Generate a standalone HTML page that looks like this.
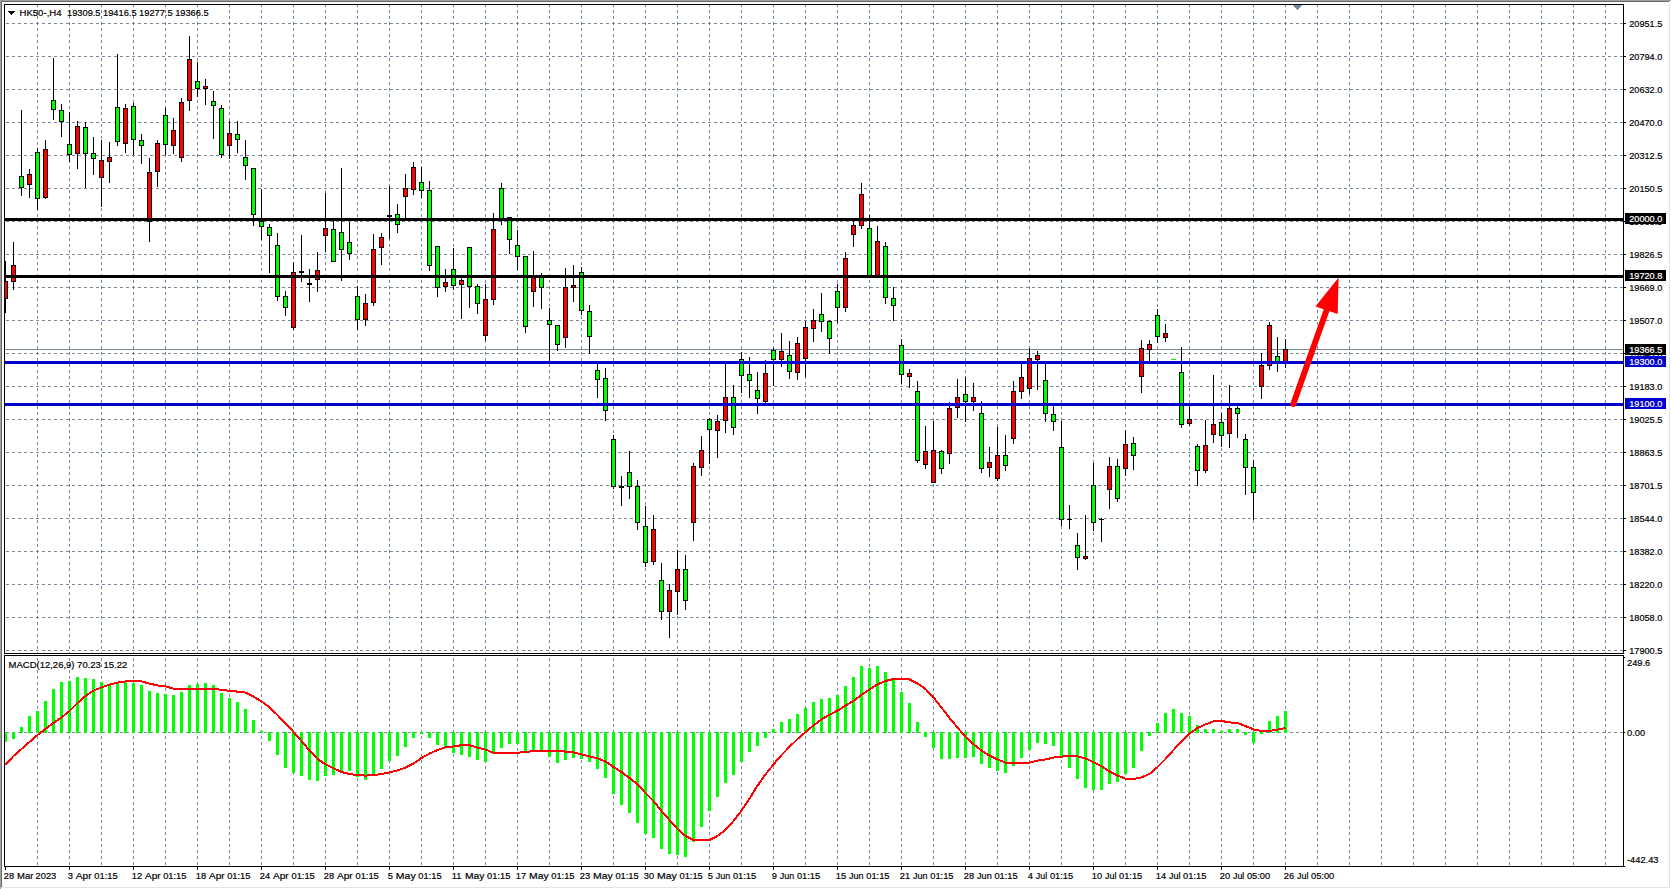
<!DOCTYPE html>
<html lang="en"><head><meta charset="utf-8"><title>HK50-,H4</title>
<style>
html,body{margin:0;padding:0;background:#fff;overflow:hidden}
body{width:1671px;height:889px}
svg{display:block;position:absolute;left:0;top:0}
text{font-family:"Liberation Sans",Arial,sans-serif;font-size:9.8px;fill:#000;stroke:#000;stroke-width:.2px}
.w{fill:#fff;stroke:#fff}
</style></head><body>
<svg width="1671" height="889" viewBox="0 0 1671 889">
<rect width="1671" height="889" fill="#fff"/>
<g shape-rendering="crispEdges">
<rect x="0" y="0" width="1671" height="1" fill="#a0a0a0"/><rect x="0" y="0" width="1" height="889" fill="#a0a0a0"/>
<rect x="1" y="1" width="1669" height="1" fill="#696969"/><rect x="1" y="1" width="1" height="887" fill="#696969"/>
<rect x="1" y="887" width="1669" height="1" fill="#e3e3e3"/><rect x="1669" y="1" width="1" height="887" fill="#e3e3e3"/>
<defs><clipPath id="c1"><rect x="5" y="5" width="1618" height="648"/></clipPath><clipPath id="c2"><rect x="5" y="656" width="1618" height="210"/></clipPath></defs>
<g clip-path="url(#c1)"><path d="M37.5 4V653M69.5 4V653M101.5 4V653M133.5 4V653M165.5 4V653M197.5 4V653M229.5 4V653M261.5 4V653M293.5 4V653M325.5 4V653M357.5 4V653M389.5 4V653M421.5 4V653M453.5 4V653M485.5 4V653M517.5 4V653M549.5 4V653M581.5 4V653M613.5 4V653M645.5 4V653M677.5 4V653M709.5 4V653M741.5 4V653M773.5 4V653M805.5 4V653M837.5 4V653M869.5 4V653M901.5 4V653M933.5 4V653M965.5 4V653M997.5 4V653M1029.5 4V653M1061.5 4V653M1093.5 4V653M1125.5 4V653M1157.5 4V653M1189.5 4V653M1221.5 4V653M1253.5 4V653M1285.5 4V653M1317.5 4V653M1349.5 4V653M1381.5 4V653M1413.5 4V653M1445.5 4V653M1477.5 4V653M1509.5 4V653M1541.5 4V653M1573.5 4V653M1605.5 4V653" stroke="#778899" stroke-width="1" stroke-dasharray="3 3" fill="none"/>
<path d="M0 23.5H1623M0 56.5H1623M0 89.5H1623M0 122.5H1623M0 155.5H1623M0 188.5H1623M0 221.5H1623M0 254.5H1623M0 287.5H1623M0 320.5H1623M0 353.5H1623M0 386.5H1623M0 419.5H1623M0 452.5H1623M0 485.5H1623M0 518.5H1623M0 551.5H1623M0 584.5H1623M0 617.5H1623M0 650.5H1623" stroke="#778899" stroke-width="1" stroke-dasharray="3 3" fill="none"/>
<rect x="5" y="349" width="1618" height="1" fill="#778899"/>
<path d="M5 261h1V313h-1zM3 281h5V299h-5zM13 242h1V290h-1zM11 265h5V282h-5zM21 110h1V196h-1zM19 176h5V188h-5zM29 169h1V198h-1zM27 174h5V185h-5zM37 148h1V210h-1zM35 152h5V199h-5zM45 140h1V199h-1zM43 149h5V198h-5zM53 58h1V120h-1zM51 100h5V110h-5zM61 104h1V137h-1zM59 110h5V122h-5zM69 112h1V162h-1zM67 144h5V155h-5zM77 121h1V169h-1zM75 126h5V154h-5zM85 122h1V188h-1zM83 127h5V154h-5zM93 137h1V175h-1zM91 153h5V159h-5zM101 140h1V207h-1zM99 160h5V178h-5zM109 142h1V183h-1zM107 157h5V162h-5zM117 54h1V146h-1zM115 107h5V142h-5zM125 104h1V153h-1zM123 108h5V144h-5zM133 103h1V155h-1zM131 106h5V140h-5zM141 134h1V164h-1zM139 140h5V146h-5zM149 158h1V242h-1zM147 172h5V222h-5zM157 140h1V187h-1zM155 143h5V172h-5zM165 108h1V155h-1zM163 115h5V145h-5zM173 118h1V154h-1zM171 130h5V146h-5zM181 98h1V162h-1zM179 102h5V158h-5zM189 36h1V111h-1zM187 59h5V101h-5zM197 62h1V97h-1zM195 81h5V89h-5zM205 79h1V105h-1zM203 86h5V89h-5zM213 91h1V139h-1zM211 101h5V106h-5zM221 105h1V158h-1zM219 108h5V155h-5zM229 121h1V159h-1zM227 133h5V146h-5zM237 121h1V153h-1zM235 134h5V140h-5zM245 140h1V180h-1zM243 157h5V166h-5zM253 168h1V226h-1zM251 168h5V215h-5zM261 189h1V240h-1zM259 221h5V227h-5zM269 224h1V273h-1zM267 227h5V236h-5zM277 233h1V301h-1zM275 245h5V297h-5zM285 291h1V316h-1zM283 296h5V308h-5zM293 262h1V330h-1zM291 272h5V328h-5zM301 235h1V282h-1zM299 271h5V273h-5zM309 269h1V302h-1zM307 283h5V285h-5zM317 252h1V292h-1zM315 270h5V280h-5zM325 193h1V252h-1zM323 228h5V236h-5zM333 219h1V262h-1zM331 229h5V262h-5zM341 168h1V281h-1zM339 232h5V250h-5zM349 222h1V260h-1zM347 242h5V254h-5zM357 286h1V330h-1zM355 296h5V320h-5zM365 294h1V326h-1zM363 303h5V320h-5zM373 234h1V306h-1zM371 249h5V303h-5zM381 233h1V265h-1zM379 237h5V248h-5zM389 186h1V239h-1zM387 215h5V217h-5zM397 204h1V233h-1zM395 214h5V225h-5zM405 174h1V219h-1zM403 188h5V197h-5zM413 162h1V195h-1zM411 167h5V190h-5zM421 167h1V198h-1zM419 182h5V191h-5zM429 181h1V271h-1zM427 190h5V266h-5zM437 246h1V297h-1zM435 246h5V288h-5zM445 269h1V292h-1zM443 282h5V287h-5zM453 248h1V290h-1zM451 269h5V286h-5zM461 278h1V319h-1zM459 280h5V285h-5zM469 247h1V308h-1zM467 247h5V287h-5zM477 284h1V314h-1zM475 286h5V304h-5zM485 284h1V341h-1zM483 299h5V336h-5zM493 213h1V305h-1zM491 229h5V300h-5zM501 183h1V225h-1zM499 188h5V220h-5zM509 217h1V254h-1zM507 217h5V240h-5zM517 230h1V270h-1zM515 245h5V257h-5zM525 256h1V333h-1zM523 256h5V327h-5zM533 251h1V307h-1zM531 277h5V292h-5zM541 273h1V309h-1zM539 277h5V288h-5zM549 308h1V361h-1zM547 320h5V325h-5zM557 325h1V351h-1zM555 325h5V345h-5zM565 268h1V348h-1zM563 287h5V338h-5zM573 265h1V302h-1zM571 285h5V288h-5zM581 267h1V315h-1zM579 272h5V311h-5zM589 305h1V354h-1zM587 311h5V337h-5zM597 364h1V398h-1zM595 370h5V380h-5zM605 368h1V421h-1zM603 378h5V411h-5zM613 435h1V489h-1zM611 439h5V487h-5zM621 476h1V506h-1zM619 486h5V488h-5zM629 451h1V499h-1zM627 472h5V487h-5zM637 480h1V530h-1zM635 486h5V523h-5zM645 506h1V567h-1zM643 526h5V563h-5zM653 515h1V565h-1zM651 529h5V562h-5zM661 563h1V620h-1zM659 580h5V612h-5zM669 584h1V638h-1zM667 590h5V612h-5zM677 550h1V615h-1zM675 569h5V592h-5zM685 555h1V610h-1zM683 569h5V601h-5zM693 463h1V541h-1zM691 466h5V523h-5zM701 436h1V476h-1zM699 450h5V468h-5zM709 418h1V464h-1zM707 419h5V430h-5zM717 415h1V458h-1zM715 421h5V431h-5zM725 362h1V433h-1zM723 397h5V421h-5zM733 385h1V435h-1zM731 397h5V428h-5zM741 352h1V393h-1zM739 359h5V376h-5zM749 357h1V398h-1zM747 374h5V381h-5zM757 372h1V414h-1zM755 390h5V399h-5zM765 360h1V403h-1zM763 373h5V402h-5zM773 348h1V386h-1zM771 350h5V360h-5zM781 333h1V367h-1zM779 351h5V360h-5zM789 341h1V379h-1zM787 355h5V372h-5zM797 337h1V380h-1zM795 343h5V373h-5zM805 321h1V377h-1zM803 327h5V359h-5zM813 309h1V342h-1zM811 320h5V329h-5zM821 293h1V332h-1zM819 314h5V322h-5zM829 320h1V354h-1zM827 321h5V339h-5zM837 284h1V323h-1zM835 291h5V308h-5zM845 252h1V312h-1zM843 258h5V308h-5zM853 221h1V247h-1zM851 225h5V235h-5zM861 183h1V229h-1zM859 194h5V226h-5zM869 215h1V278h-1zM867 228h5V276h-5zM877 226h1V278h-1zM875 241h5V276h-5zM885 242h1V304h-1zM883 246h5V298h-5zM893 287h1V321h-1zM891 298h5V306h-5zM901 339h1V384h-1zM899 345h5V375h-5zM909 369h1V388h-1zM907 373h5V377h-5zM917 381h1V463h-1zM915 391h5V461h-5zM925 426h1V469h-1zM923 451h5V465h-5zM933 421h1V483h-1zM931 450h5V483h-5zM941 450h1V474h-1zM939 451h5V469h-5zM949 402h1V464h-1zM947 408h5V454h-5zM957 379h1V418h-1zM955 397h5V408h-5zM965 377h1V422h-1zM963 394h5V402h-5zM973 383h1V411h-1zM971 397h5V402h-5zM981 401h1V473h-1zM979 413h5V469h-5zM989 447h1V477h-1zM987 462h5V468h-5zM997 427h1V481h-1zM995 455h5V479h-5zM1005 435h1V471h-1zM1003 455h5V466h-5zM1013 381h1V444h-1zM1011 391h5V439h-5zM1021 362h1V399h-1zM1019 377h5V392h-5zM1029 348h1V394h-1zM1027 358h5V389h-5zM1037 351h1V390h-1zM1035 355h5V360h-5zM1045 362h1V422h-1zM1043 380h5V414h-5zM1053 405h1V431h-1zM1051 414h5V422h-5zM1061 421h1V526h-1zM1059 447h5V520h-5zM1069 505h1V529h-1zM1067 519h5V520h-5zM1077 533h1V570h-1zM1075 545h5V558h-5zM1085 515h1V560h-1zM1083 556h5V559h-5zM1093 463h1V531h-1zM1091 485h5V523h-5zM1101 518h1V542h-1zM1099 519h5V520h-5zM1109 457h1V509h-1zM1107 466h5V490h-5zM1117 459h1V502h-1zM1115 466h5V499h-5zM1125 430h1V476h-1zM1123 444h5V469h-5zM1133 437h1V470h-1zM1131 443h5V456h-5zM1141 340h1V393h-1zM1139 348h5V377h-5zM1149 340h1V362h-1zM1147 344h5V350h-5zM1157 309h1V343h-1zM1155 315h5V337h-5zM1165 324h1V342h-1zM1163 333h5V338h-5zM1181 347h1V428h-1zM1179 372h5V425h-5zM1189 405h1V426h-1zM1187 419h5V424h-5zM1197 444h1V486h-1zM1195 446h5V471h-5zM1205 420h1V473h-1zM1203 445h5V471h-5zM1213 375h1V443h-1zM1211 424h5V435h-5zM1221 413h1V447h-1zM1219 422h5V436h-5zM1229 385h1V448h-1zM1227 408h5V434h-5zM1237 406h1V438h-1zM1235 408h5V414h-5zM1245 434h1V495h-1zM1243 439h5V468h-5zM1253 460h1V520h-1zM1251 467h5V493h-5zM1261 353h1V399h-1zM1259 365h5V387h-5zM1269 322h1V370h-1zM1267 325h5V366h-5zM1277 337h1V372h-1zM1275 356h5V362h-5zM1285 339h1V368h-1zM1283 349h5V362h-5z" fill="#000"/>
<path d="M4 282h3V298h-3zM12 266h3V281h-3zM28 175h3V184h-3zM44 150h3V197h-3zM76 127h3V153h-3zM100 161h3V177h-3zM108 158h3V161h-3zM124 109h3V143h-3zM148 173h3V221h-3zM156 144h3V171h-3zM172 131h3V145h-3zM180 103h3V157h-3zM188 60h3V100h-3zM204 87h3V88h-3zM228 134h3V145h-3zM292 273h3V327h-3zM316 271h3V279h-3zM324 229h3V235h-3zM364 304h3V319h-3zM372 250h3V302h-3zM380 238h3V247h-3zM404 189h3V196h-3zM412 168h3V189h-3zM444 283h3V286h-3zM460 281h3V284h-3zM484 300h3V335h-3zM492 230h3V299h-3zM532 278h3V291h-3zM564 288h3V337h-3zM572 286h3V287h-3zM652 530h3V561h-3zM668 591h3V611h-3zM676 570h3V591h-3zM692 467h3V522h-3zM700 451h3V467h-3zM716 422h3V430h-3zM724 398h3V420h-3zM764 374h3V401h-3zM780 352h3V359h-3zM796 344h3V372h-3zM804 328h3V358h-3zM812 321h3V328h-3zM844 259h3V307h-3zM852 226h3V234h-3zM860 195h3V225h-3zM876 242h3V275h-3zM908 374h3V376h-3zM924 452h3V464h-3zM932 451h3V482h-3zM948 409h3V453h-3zM956 398h3V407h-3zM972 398h3V401h-3zM988 463h3V467h-3zM996 456h3V478h-3zM1012 392h3V438h-3zM1020 378h3V391h-3zM1028 359h3V388h-3zM1036 356h3V359h-3zM1084 557h3V558h-3zM1108 467h3V489h-3zM1124 445h3V468h-3zM1140 349h3V376h-3zM1148 345h3V349h-3zM1164 334h3V337h-3zM1188 420h3V423h-3zM1204 446h3V470h-3zM1212 425h3V434h-3zM1228 409h3V433h-3zM1260 366h3V386h-3zM1268 326h3V365h-3zM1284 350h3V361h-3z" fill="#f00"/>
<path d="M20 177h3V187h-3zM36 153h3V198h-3zM52 101h3V109h-3zM60 111h3V121h-3zM68 145h3V154h-3zM84 128h3V153h-3zM92 154h3V158h-3zM116 108h3V141h-3zM132 107h3V139h-3zM140 141h3V145h-3zM164 116h3V144h-3zM196 82h3V88h-3zM212 102h3V105h-3zM220 109h3V154h-3zM236 135h3V139h-3zM244 158h3V165h-3zM252 169h3V214h-3zM260 222h3V226h-3zM268 228h3V235h-3zM276 246h3V296h-3zM284 297h3V307h-3zM332 230h3V261h-3zM340 233h3V249h-3zM348 243h3V253h-3zM356 297h3V319h-3zM396 215h3V224h-3zM420 183h3V190h-3zM428 191h3V265h-3zM436 247h3V287h-3zM452 270h3V285h-3zM468 248h3V286h-3zM476 287h3V303h-3zM500 189h3V219h-3zM508 218h3V239h-3zM516 246h3V256h-3zM524 257h3V326h-3zM540 278h3V287h-3zM548 321h3V324h-3zM556 326h3V344h-3zM580 273h3V310h-3zM588 312h3V336h-3zM596 371h3V379h-3zM604 379h3V410h-3zM612 440h3V486h-3zM628 473h3V486h-3zM636 487h3V522h-3zM644 527h3V562h-3zM660 581h3V611h-3zM684 570h3V600h-3zM708 420h3V429h-3zM732 398h3V427h-3zM740 360h3V375h-3zM748 375h3V380h-3zM756 391h3V398h-3zM772 351h3V359h-3zM788 356h3V371h-3zM820 315h3V321h-3zM828 322h3V338h-3zM836 292h3V307h-3zM868 229h3V275h-3zM884 247h3V297h-3zM892 299h3V305h-3zM900 346h3V374h-3zM916 392h3V460h-3zM940 452h3V468h-3zM964 395h3V401h-3zM980 414h3V468h-3zM1004 456h3V465h-3zM1044 381h3V413h-3zM1052 415h3V421h-3zM1060 448h3V519h-3zM1076 546h3V557h-3zM1092 486h3V522h-3zM1116 467h3V498h-3zM1132 444h3V455h-3zM1156 316h3V336h-3zM1180 373h3V424h-3zM1196 447h3V470h-3zM1220 423h3V435h-3zM1236 409h3V413h-3zM1244 440h3V467h-3zM1252 468h3V492h-3zM1276 357h3V361h-3z" fill="#0f0"/>
<rect x="1171" y="359" width="5" height="1" fill="#0f0"/>
<rect x="5" y="218" width="1618" height="3" fill="#000"/><rect x="5" y="275" width="1618" height="3" fill="#000"/>
<rect x="5" y="361" width="1618" height="3" fill="#0000cd"/><rect x="5" y="403" width="1618" height="3" fill="#0000cd"/>
</g>
<g clip-path="url(#c2)"><path d="M37.5 4V867M69.5 4V867M101.5 4V867M133.5 4V867M165.5 4V867M197.5 4V867M229.5 4V867M261.5 4V867M293.5 4V867M325.5 4V867M357.5 4V867M389.5 4V867M421.5 4V867M453.5 4V867M485.5 4V867M517.5 4V867M549.5 4V867M581.5 4V867M613.5 4V867M645.5 4V867M677.5 4V867M709.5 4V867M741.5 4V867M773.5 4V867M805.5 4V867M837.5 4V867M869.5 4V867M901.5 4V867M933.5 4V867M965.5 4V867M997.5 4V867M1029.5 4V867M1061.5 4V867M1093.5 4V867M1125.5 4V867M1157.5 4V867M1189.5 4V867M1221.5 4V867M1253.5 4V867M1285.5 4V867M1317.5 4V867M1349.5 4V867M1381.5 4V867M1413.5 4V867M1445.5 4V867M1477.5 4V867M1509.5 4V867M1541.5 4V867M1573.5 4V867M1605.5 4V867" stroke="#778899" stroke-width="1" stroke-dasharray="3 3" fill="none"/>
<path d="M0 732.5H1623" stroke="#778899" stroke-width="1" stroke-dasharray="3 3" fill="none"/>
<path d="M4 732h3V742h-3zM12 732h3V739h-3zM20 727h3V733h-3zM28 716h3V733h-3zM36 711h3V733h-3zM44 701h3V733h-3zM52 689h3V733h-3zM60 682h3V733h-3zM68 681h3V733h-3zM76 677h3V733h-3zM84 678h3V733h-3zM92 679h3V733h-3zM100 682h3V733h-3zM108 684h3V733h-3zM116 683h3V733h-3zM124 682h3V733h-3zM132 683h3V733h-3zM140 685h3V733h-3zM148 691h3V733h-3zM156 693h3V733h-3zM164 694h3V733h-3zM172 695h3V733h-3zM180 692h3V733h-3zM188 685h3V733h-3zM196 684h3V733h-3zM204 683h3V733h-3zM212 685h3V733h-3zM220 693h3V733h-3zM228 698h3V733h-3zM236 702h3V733h-3zM244 709h3V733h-3zM252 720h3V733h-3zM260 731h3V733h-3zM268 732h3V741h-3zM276 732h3V755h-3zM284 732h3V768h-3zM292 732h3V773h-3zM300 732h3V776h-3zM308 732h3V780h-3zM316 732h3V781h-3zM324 732h3V776h-3zM332 732h3V775h-3zM340 732h3V772h-3zM348 732h3V771h-3zM356 732h3V777h-3zM364 732h3V780h-3zM372 732h3V774h-3zM380 732h3V769h-3zM388 732h3V761h-3zM396 732h3V756h-3zM404 732h3V747h-3zM412 732h3V738h-3zM420 732h3V734h-3zM428 732h3V738h-3zM436 732h3V745h-3zM444 732h3V747h-3zM452 732h3V753h-3zM460 732h3V755h-3zM468 732h3V757h-3zM476 732h3V760h-3zM484 732h3V762h-3zM492 732h3V754h-3zM500 732h3V748h-3zM508 732h3V744h-3zM516 732h3V744h-3zM524 732h3V752h-3zM532 732h3V752h-3zM540 732h3V752h-3zM548 732h3V757h-3zM556 732h3V763h-3zM564 732h3V760h-3zM572 732h3V758h-3zM580 732h3V759h-3zM588 732h3V762h-3zM596 732h3V769h-3zM604 732h3V778h-3zM612 732h3V794h-3zM620 732h3V805h-3zM628 732h3V813h-3zM636 732h3V823h-3zM644 732h3V834h-3zM652 732h3V838h-3zM660 732h3V849h-3zM668 732h3V854h-3zM676 732h3V855h-3zM684 732h3V857h-3zM692 732h3V842h-3zM700 732h3V827h-3zM708 732h3V811h-3zM716 732h3V797h-3zM724 732h3V783h-3zM732 732h3V775h-3zM740 732h3V762h-3zM748 732h3V752h-3zM756 732h3V746h-3zM764 732h3V738h-3zM772 729h3V733h-3zM780 722h3V733h-3zM788 719h3V733h-3zM796 714h3V733h-3zM804 708h3V733h-3zM812 702h3V733h-3zM820 699h3V733h-3zM828 698h3V733h-3zM836 695h3V733h-3zM844 686h3V733h-3zM852 677h3V733h-3zM860 666h3V733h-3zM868 668h3V733h-3zM876 666h3V733h-3zM884 672h3V733h-3zM892 680h3V733h-3zM900 692h3V733h-3zM908 703h3V733h-3zM916 722h3V733h-3zM924 732h3V737h-3zM932 732h3V748h-3zM940 732h3V759h-3zM948 732h3V759h-3zM956 732h3V758h-3zM964 732h3V758h-3zM972 732h3V757h-3zM980 732h3V764h-3zM988 732h3V768h-3zM996 732h3V771h-3zM1004 732h3V773h-3zM1012 732h3V766h-3zM1020 732h3V758h-3zM1028 732h3V750h-3zM1036 732h3V743h-3zM1044 732h3V744h-3zM1052 732h3V746h-3zM1060 732h3V756h-3zM1068 732h3V768h-3zM1076 732h3V779h-3zM1084 732h3V788h-3zM1092 732h3V790h-3zM1100 732h3V790h-3zM1108 732h3V784h-3zM1116 732h3V782h-3zM1124 732h3V774h-3zM1132 732h3V768h-3zM1140 732h3V751h-3zM1148 732h3V736h-3zM1156 723h3V733h-3zM1164 713h3V733h-3zM1172 709h3V733h-3zM1180 713h3V733h-3zM1188 716h3V733h-3zM1196 725h3V733h-3zM1204 729h3V733h-3zM1212 729h3V733h-3zM1220 731h3V733h-3zM1228 729h3V733h-3zM1236 729h3V733h-3zM1244 732h3V735h-3zM1252 732h3V743h-3zM1260 732h3V734h-3zM1268 721h3V733h-3zM1276 716h3V733h-3zM1284 711h3V733h-3z" fill="#0f0"/>
<polyline points="5.5,764.6 13.5,756.0 21.5,749.0 29.5,742.0 37.5,735.0 45.5,729.0 53.5,723.0 61.5,717.4 69.5,711.0 77.5,703.0 85.5,696.0 93.5,690.6 101.5,687.4 109.5,684.6 117.5,682.6 125.5,681.4 133.5,681.0 141.5,681.4 149.5,683.6 157.5,685.4 165.5,686.4 173.5,688.6 181.5,689.0 189.5,689.0 197.5,689.0 205.5,689.0 213.5,689.0 221.5,689.8 229.5,690.8 237.5,691.6 245.5,692.6 253.5,696.6 261.5,701.4 269.5,707.4 277.5,715.0 285.5,723.4 293.5,732.0 301.5,741.0 309.5,750.6 317.5,759.0 325.5,764.3 333.5,768.2 341.5,772.0 349.5,774.0 357.5,775.2 365.5,775.6 373.5,775.2 381.5,774.0 389.5,772.4 397.5,770.4 405.5,767.6 413.5,763.6 421.5,758.0 429.5,753.6 437.5,750.0 445.5,747.4 453.5,746.4 461.5,745.2 469.5,745.2 477.5,747.6 485.5,749.6 493.5,752.8 501.5,753.0 509.5,753.0 517.5,752.8 525.5,752.0 533.5,751.2 541.5,750.8 549.5,750.8 557.5,750.8 565.5,751.6 573.5,752.4 581.5,754.4 589.5,756.4 597.5,758.4 605.5,761.4 613.5,767.0 621.5,772.0 629.5,778.0 637.5,784.0 645.5,793.0 653.5,801.0 661.5,811.0 669.5,820.0 677.5,829.0 685.5,836.0 693.5,840.0 701.5,840.4 709.5,840.0 717.5,836.0 725.5,830.0 733.5,821.0 741.5,810.6 749.5,798.5 757.5,785.6 765.5,774.4 773.5,764.4 781.5,755.0 789.5,746.9 797.5,739.0 805.5,732.2 813.5,725.3 821.5,719.3 829.5,714.7 837.5,710.6 845.5,705.6 853.5,700.8 861.5,694.8 869.5,689.5 877.5,684.4 885.5,681.0 893.5,679.0 901.5,679.0 909.5,679.4 917.5,683.4 925.5,689.0 933.5,697.5 941.5,707.5 949.5,718.0 957.5,727.5 965.5,737.0 973.5,744.2 981.5,750.6 989.5,755.6 997.5,759.4 1005.5,762.6 1013.5,763.0 1021.5,763.0 1029.5,762.6 1037.5,760.6 1045.5,759.4 1053.5,757.6 1061.5,756.6 1069.5,756.0 1077.5,756.4 1085.5,758.4 1093.5,762.2 1101.5,766.2 1109.5,771.4 1117.5,775.6 1125.5,778.6 1133.5,779.0 1141.5,777.4 1149.5,774.0 1157.5,767.0 1165.5,759.0 1173.5,750.0 1181.5,741.4 1189.5,733.6 1197.5,728.0 1205.5,724.4 1213.5,721.4 1221.5,721.0 1229.5,722.4 1237.5,723.0 1245.5,726.0 1253.5,729.4 1261.5,731.0 1269.5,731.0 1277.5,729.6 1285.5,728.0" fill="none" stroke="#f00" stroke-width="2" stroke-linejoin="round"/>
</g>
<path d="M4 4H1624V654H4z M4 655H1624V867H4z" fill="none"/>
<rect x="4" y="4" width="1620" height="1" fill="#000"/><rect x="4" y="653" width="1620" height="1" fill="#000"/><rect x="4" y="4" width="1" height="650" fill="#000"/><rect x="1623" y="4" width="1" height="650" fill="#000"/>
<rect x="4" y="655" width="1620" height="1" fill="#000"/><rect x="4" y="866" width="1620" height="1" fill="#000"/><rect x="4" y="655" width="1" height="212" fill="#000"/><rect x="1623" y="655" width="1" height="212" fill="#000"/>
<path d="M1624 23h2v1h-2zM1624 56h2v1h-2zM1624 89h2v1h-2zM1624 122h2v1h-2zM1624 155h2v1h-2zM1624 188h2v1h-2zM1624 221h2v1h-2zM1624 254h2v1h-2zM1624 287h2v1h-2zM1624 320h2v1h-2zM1624 353h2v1h-2zM1624 386h2v1h-2zM1624 419h2v1h-2zM1624 452h2v1h-2zM1624 485h2v1h-2zM1624 518h2v1h-2zM1624 551h2v1h-2zM1624 584h2v1h-2zM1624 617h2v1h-2zM1624 650h2v1h-2zM1624 732h1v1h-1zM1624 657h1v1h-1zM1624 866h1v1h-1zM5 867h1v3h-1zM69 867h1v3h-1zM133 867h1v3h-1zM197 867h1v3h-1zM261 867h1v3h-1zM325 867h1v3h-1zM389 867h1v3h-1zM453 867h1v3h-1zM517 867h1v3h-1zM581 867h1v3h-1zM645 867h1v3h-1zM709 867h1v3h-1zM773 867h1v3h-1zM837 867h1v3h-1zM901 867h1v3h-1zM965 867h1v3h-1zM1029 867h1v3h-1zM1093 867h1v3h-1zM1157 867h1v3h-1zM1221 867h1v3h-1zM1285 867h1v3h-1z" fill="#000"/>
<path d="M1293 5h9v1h-9zM1294 6h7v1h-7zM1295 7h5v1h-5zM1296 8h3v1h-3zM1297 9h1v1h-1z" fill="#778899"/>
<path d="M8 11h7v1h-7zM9 12h5v1h-5zM10 13h3v1h-3zM11 14h1v1h-1z" fill="#000"/>
</g>
<g><line x1="1293.3" y1="404" x2="1327" y2="309" stroke="#f00" stroke-width="6" stroke-linecap="round"/><path d="M1338.6 277.6L1315.4 306.4L1337.7 314z" fill="#f00"/></g>
<text textLength="34.7" lengthAdjust="spacingAndGlyphs" transform="translate(1629.3 27) scale(0.949 1)" xml:space="preserve">20951.5</text>
<text textLength="34.7" lengthAdjust="spacingAndGlyphs" transform="translate(1629.3 60) scale(0.949 1)" xml:space="preserve">20794.0</text>
<text textLength="34.7" lengthAdjust="spacingAndGlyphs" transform="translate(1629.3 93) scale(0.949 1)" xml:space="preserve">20632.0</text>
<text textLength="34.7" lengthAdjust="spacingAndGlyphs" transform="translate(1629.3 126) scale(0.949 1)" xml:space="preserve">20470.0</text>
<text textLength="34.7" lengthAdjust="spacingAndGlyphs" transform="translate(1629.3 159) scale(0.949 1)" xml:space="preserve">20312.5</text>
<text textLength="34.7" lengthAdjust="spacingAndGlyphs" transform="translate(1629.3 192) scale(0.949 1)" xml:space="preserve">20150.5</text>
<text textLength="34.7" lengthAdjust="spacingAndGlyphs" transform="translate(1629.3 225) scale(0.949 1)" xml:space="preserve">19988.5</text>
<text textLength="34.7" lengthAdjust="spacingAndGlyphs" transform="translate(1629.3 258) scale(0.949 1)" xml:space="preserve">19826.5</text>
<text textLength="34.7" lengthAdjust="spacingAndGlyphs" transform="translate(1629.3 291) scale(0.949 1)" xml:space="preserve">19669.0</text>
<text textLength="34.7" lengthAdjust="spacingAndGlyphs" transform="translate(1629.3 324) scale(0.949 1)" xml:space="preserve">19507.0</text>
<text textLength="34.7" lengthAdjust="spacingAndGlyphs" transform="translate(1629.3 357) scale(0.949 1)" xml:space="preserve">19345.0</text>
<text textLength="34.7" lengthAdjust="spacingAndGlyphs" transform="translate(1629.3 390) scale(0.949 1)" xml:space="preserve">19183.0</text>
<text textLength="34.7" lengthAdjust="spacingAndGlyphs" transform="translate(1629.3 423) scale(0.949 1)" xml:space="preserve">19025.5</text>
<text textLength="34.7" lengthAdjust="spacingAndGlyphs" transform="translate(1629.3 456) scale(0.949 1)" xml:space="preserve">18863.5</text>
<text textLength="34.7" lengthAdjust="spacingAndGlyphs" transform="translate(1629.3 489) scale(0.949 1)" xml:space="preserve">18701.5</text>
<text textLength="34.7" lengthAdjust="spacingAndGlyphs" transform="translate(1629.3 522) scale(0.949 1)" xml:space="preserve">18544.0</text>
<text textLength="34.7" lengthAdjust="spacingAndGlyphs" transform="translate(1629.3 555) scale(0.949 1)" xml:space="preserve">18382.0</text>
<text textLength="34.7" lengthAdjust="spacingAndGlyphs" transform="translate(1629.3 588) scale(0.949 1)" xml:space="preserve">18220.0</text>
<text textLength="34.7" lengthAdjust="spacingAndGlyphs" transform="translate(1629.3 621) scale(0.949 1)" xml:space="preserve">18058.0</text>
<text textLength="34.7" lengthAdjust="spacingAndGlyphs" transform="translate(1629.3 654) scale(0.949 1)" xml:space="preserve">17900.5</text>
<text transform="translate(1627 666) scale(0.949 1)" xml:space="preserve">249.6</text>
<text transform="translate(1627 736) scale(0.949 1)" xml:space="preserve">0.00</text>
<text transform="translate(1627 863) scale(0.949 1)" xml:space="preserve">-442.43</text>
<rect x="1625" y="213" width="41" height="11" fill="#000" shape-rendering="crispEdges"/><text class="w" textLength="34.7" lengthAdjust="spacingAndGlyphs" transform="translate(1629.3 222) scale(0.949 1)" xml:space="preserve">20000.0</text>
<rect x="1625" y="270" width="41" height="11" fill="#000" shape-rendering="crispEdges"/><text class="w" textLength="34.7" lengthAdjust="spacingAndGlyphs" transform="translate(1629.3 279) scale(0.949 1)" xml:space="preserve">19720.8</text>
<rect x="1625" y="344" width="41" height="11" fill="#000" shape-rendering="crispEdges"/><text class="w" textLength="34.7" lengthAdjust="spacingAndGlyphs" transform="translate(1629.3 353) scale(0.949 1)" xml:space="preserve">19366.5</text>
<rect x="1625" y="356" width="41" height="11" fill="#0000cd" shape-rendering="crispEdges"/><text class="w" textLength="34.7" lengthAdjust="spacingAndGlyphs" transform="translate(1629.3 365) scale(0.949 1)" xml:space="preserve">19300.0</text>
<rect x="1625" y="398" width="41" height="11" fill="#0000cd" shape-rendering="crispEdges"/><text class="w" textLength="34.7" lengthAdjust="spacingAndGlyphs" transform="translate(1629.3 407) scale(0.949 1)" xml:space="preserve">19100.0</text>
<text transform="translate(19.5 16) scale(0.949 1)" xml:space="preserve"><tspan textLength="44.3" lengthAdjust="spacingAndGlyphs">HK50-,H4</tspan>  <tspan x="50.1" textLength="149.2" lengthAdjust="spacingAndGlyphs">19309.5 19416.5 19277.5 19366.5</tspan></text>
<text textLength="125.0" lengthAdjust="spacingAndGlyphs" transform="translate(8.6 667.6) scale(0.949 1)" xml:space="preserve">MACD(12,26,9) 70.23 15.22</text>
<text transform="translate(3.8 878.5) scale(0.949 1)" xml:space="preserve"><tspan>28</tspan> <tspan x="13.9" textLength="17.2" lengthAdjust="spacingAndGlyphs">Mar</tspan> <tspan x="55.3" text-anchor="end">2023</tspan></text>
<text transform="translate(67.8 878.5) scale(0.949 1)" xml:space="preserve"><tspan>3</tspan> <tspan x="8.5" textLength="16.6" lengthAdjust="spacingAndGlyphs">Apr</tspan> <tspan x="52.5" text-anchor="end">01:15</tspan></text>
<text transform="translate(131.8 878.5) scale(0.949 1)" xml:space="preserve"><tspan>12</tspan> <tspan x="13.9" textLength="16.4" lengthAdjust="spacingAndGlyphs">Apr</tspan> <tspan x="57.6" text-anchor="end">01:15</tspan></text>
<text transform="translate(195.8 878.5) scale(0.949 1)" xml:space="preserve"><tspan>18</tspan> <tspan x="13.9" textLength="16.4" lengthAdjust="spacingAndGlyphs">Apr</tspan> <tspan x="57.6" text-anchor="end">01:15</tspan></text>
<text transform="translate(259.8 878.5) scale(0.949 1)" xml:space="preserve"><tspan>24</tspan> <tspan x="13.9" textLength="16.6" lengthAdjust="spacingAndGlyphs">Apr</tspan> <tspan x="57.9" text-anchor="end">01:15</tspan></text>
<text transform="translate(323.8 878.5) scale(0.949 1)" xml:space="preserve"><tspan>28</tspan> <tspan x="13.9" textLength="16.6" lengthAdjust="spacingAndGlyphs">Apr</tspan> <tspan x="57.9" text-anchor="end">01:15</tspan></text>
<text transform="translate(387.8 878.5) scale(0.949 1)" xml:space="preserve"><tspan>5</tspan> <tspan x="8.5" textLength="20.9" lengthAdjust="spacingAndGlyphs">May</tspan> <tspan x="56.7" text-anchor="end">01:15</tspan></text>
<text transform="translate(451.8 878.5) scale(0.949 1)" xml:space="preserve"><tspan>11</tspan> <tspan x="13.9" textLength="20.5" lengthAdjust="spacingAndGlyphs">May</tspan> <tspan x="61.7" text-anchor="end">01:15</tspan></text>
<text transform="translate(515.8 878.5) scale(0.949 1)" xml:space="preserve"><tspan>17</tspan> <tspan x="13.9" textLength="20.7" lengthAdjust="spacingAndGlyphs">May</tspan> <tspan x="61.9" text-anchor="end">01:15</tspan></text>
<text transform="translate(579.8 878.5) scale(0.949 1)" xml:space="preserve"><tspan>23</tspan> <tspan x="13.9" textLength="20.8" lengthAdjust="spacingAndGlyphs">May</tspan> <tspan x="62.0" text-anchor="end">01:15</tspan></text>
<text transform="translate(643.8 878.5) scale(0.949 1)" xml:space="preserve"><tspan>30</tspan> <tspan x="13.9" textLength="20.9" lengthAdjust="spacingAndGlyphs">May</tspan> <tspan x="62.1" text-anchor="end">01:15</tspan></text>
<text transform="translate(707.8 878.5) scale(0.949 1)" xml:space="preserve"><tspan>5</tspan> <tspan x="8.5" textLength="15.2" lengthAdjust="spacingAndGlyphs">Jun</tspan> <tspan x="51.0" text-anchor="end">01:15</tspan></text>
<text transform="translate(771.8 878.5) scale(0.949 1)" xml:space="preserve"><tspan>9</tspan> <tspan x="8.5" textLength="15.2" lengthAdjust="spacingAndGlyphs">Jun</tspan> <tspan x="51.0" text-anchor="end">01:15</tspan></text>
<text transform="translate(835.8 878.5) scale(0.949 1)" xml:space="preserve"><tspan>15</tspan> <tspan x="13.9" textLength="15.4" lengthAdjust="spacingAndGlyphs">Jun</tspan> <tspan x="56.6" text-anchor="end">01:15</tspan></text>
<text transform="translate(899.8 878.5) scale(0.949 1)" xml:space="preserve"><tspan>21</tspan> <tspan x="13.9" textLength="15.4" lengthAdjust="spacingAndGlyphs">Jun</tspan> <tspan x="56.6" text-anchor="end">01:15</tspan></text>
<text transform="translate(963.8 878.5) scale(0.949 1)" xml:space="preserve"><tspan>28</tspan> <tspan x="13.9" textLength="15.6" lengthAdjust="spacingAndGlyphs">Jun</tspan> <tspan x="56.8" text-anchor="end">01:15</tspan></text>
<text transform="translate(1027.8 878.5) scale(0.949 1)" xml:space="preserve"><tspan>4</tspan> <tspan x="8.5" textLength="12.0" lengthAdjust="spacingAndGlyphs">Jul</tspan> <tspan x="47.8" text-anchor="end">01:15</tspan></text>
<text transform="translate(1091.8 878.5) scale(0.949 1)" xml:space="preserve"><tspan>10</tspan> <tspan x="13.9" textLength="12.0" lengthAdjust="spacingAndGlyphs">Jul</tspan> <tspan x="53.2" text-anchor="end">01:15</tspan></text>
<text transform="translate(1155.8 878.5) scale(0.949 1)" xml:space="preserve"><tspan>14</tspan> <tspan x="13.9" textLength="12.1" lengthAdjust="spacingAndGlyphs">Jul</tspan> <tspan x="53.3" text-anchor="end">01:15</tspan></text>
<text transform="translate(1219.8 878.5) scale(0.949 1)" xml:space="preserve"><tspan>20</tspan> <tspan x="13.9" textLength="11.9" lengthAdjust="spacingAndGlyphs">Jul</tspan> <tspan x="53.1" text-anchor="end">05:00</tspan></text>
<text transform="translate(1283.8 878.5) scale(0.949 1)" xml:space="preserve"><tspan>26</tspan> <tspan x="13.9" textLength="12.0" lengthAdjust="spacingAndGlyphs">Jul</tspan> <tspan x="53.2" text-anchor="end">05:00</tspan></text>
</svg>
</body></html>
